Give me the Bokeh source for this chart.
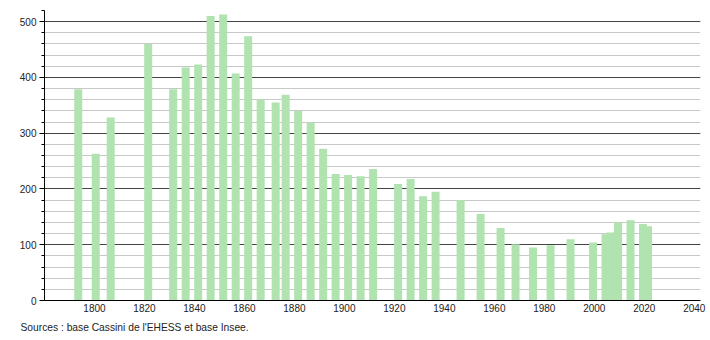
from bokeh.plotting import figure
from bokeh.models import ColumnDataSource, SingleIntervalTicker, Range1d, Title, FixedTicker
from bokeh.embed import file_html
from bokeh.resources import INLINE

years = [1793, 1800, 1806, 1821, 1831, 1836, 1841, 1846, 1851, 1856, 1861, 1866,
         1872, 1876, 1881, 1886, 1891, 1896, 1901, 1906, 1911, 1921, 1926, 1931,
         1936, 1946, 1954, 1962, 1968, 1975, 1982, 1990, 1999, 2004, 2006, 2009,
         2014, 2019, 2021]
population = [379, 263, 328, 460, 379, 418, 423, 510, 513, 407, 474, 360,
              355, 369, 340, 319, 272, 227, 225, 223, 236, 209, 218, 187,
              195, 180, 155, 130, 101, 95, 99, 110, 104, 119, 122, 140,
              144, 137, 133]
x_ticks = [1800, 1820, 1840, 1860, 1880, 1900, 1920, 1940, 1960, 1980, 2000, 2020, 2040]
source_text = "Sources : base Cassini de l'EHESS et base Insee."

FONT = "Liberation Sans"

src = ColumnDataSource(dict(x=[y + 0.5 for y in years], top=population))

p = figure(width=710, height=340, output_backend="svg", toolbar_location=None,
           x_range=Range1d(1780, 2042.5), y_range=Range1d(0, 520),
           min_border_left=44, min_border_right=10, min_border_top=10,
           min_border_bottom=40)
p.outline_line_color = None
p.background_fill_color = "white"
p.border_fill_color = "white"

p.vbar(x="x", top="top", width=3.2, bottom=0, source=src,
       fill_color="#b0e3b0", line_color=None)

# y axis
p.yaxis.ticker = SingleIntervalTicker(interval=100, num_minor_ticks=5)
p.yaxis.axis_line_color = "black"
p.yaxis.major_tick_line_color = "black"
p.yaxis.minor_tick_line_color = "black"
p.yaxis.major_tick_out = 5
p.yaxis.major_tick_in = 0
p.yaxis.minor_tick_out = 3
p.yaxis.minor_tick_in = 0
p.yaxis.major_label_text_font = FONT
p.yaxis.major_label_text_font_size = "10px"
p.yaxis.major_label_text_color = "#222222"
p.yaxis.major_label_standoff = 3

# x axis
p.xaxis.ticker = FixedTicker(ticks=x_ticks)
p.xaxis.axis_line_color = "black"
p.xaxis.major_tick_line_color = None
p.xaxis.minor_tick_line_color = None
p.xaxis.major_tick_out = 0
p.xaxis.major_tick_in = 0
p.xaxis.minor_tick_out = 0
p.xaxis.major_label_text_font = FONT
p.xaxis.major_label_text_font_size = "10px"
p.xaxis.major_label_text_color = "#222222"
p.xaxis.major_label_standoff = 3

# grids
p.xgrid.grid_line_color = None
p.ygrid.grid_line_color = "#444444"
p.ygrid.grid_line_width = 1
p.ygrid.minor_grid_line_color = "#c8c8c8"
p.ygrid.minor_grid_line_width = 1
p.ygrid.level = "underlay"

title = Title(text=source_text, align="left", offset=-24, standoff=10,
              text_font=FONT, text_font_size="10.25px", text_color="#222222",
              text_font_style="normal")
p.add_layout(title, "below")

open("out.html", "w").write(file_html(p, INLINE))
